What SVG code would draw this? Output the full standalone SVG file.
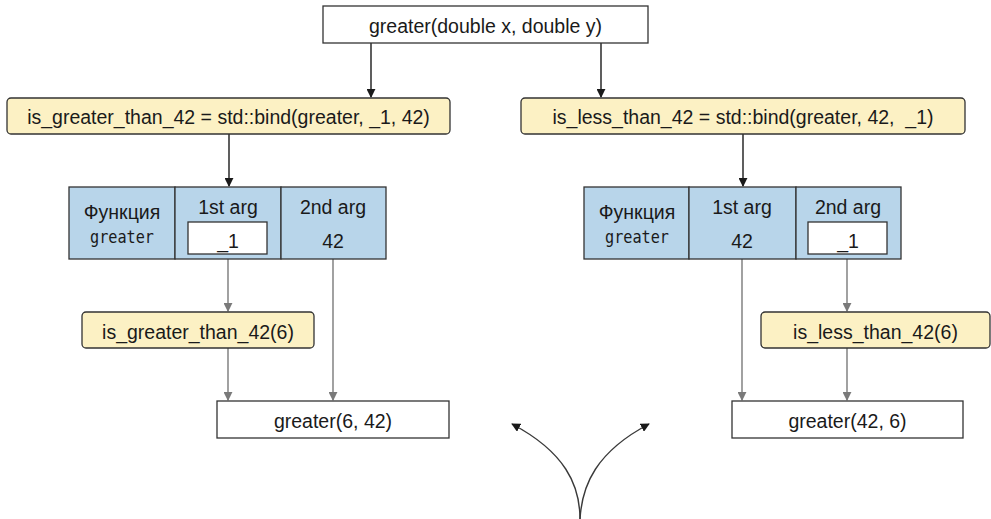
<svg xmlns="http://www.w3.org/2000/svg" width="991" height="519" viewBox="0 0 991 519">
  <defs>
    <style>
      .t { font-family: "Liberation Sans", Arial, sans-serif; font-size: 19.5px; fill: #1a1a1a; text-anchor: middle; }
      .m { font-family: "DejaVu Sans Mono", monospace; font-size: 17px; fill: #1a1a1a; text-anchor: middle; }
      .plain { fill: #ffffff; stroke: #333333; stroke-width: 1.3; }
      .call { fill: #fcf1c4; stroke: #333333; stroke-width: 1.3; }
      .cell { fill: #b8d5ea; stroke: #333333; stroke-width: 1.3; }
      .dark { stroke: #1a1a1a; stroke-width: 1.4; fill: none; marker-end: url(#headDark); }
      .grey { stroke: #7a7a7a; stroke-width: 1.4; fill: none; marker-end: url(#headGrey); }
      .curve { stroke: #3a3a3a; stroke-width: 1.4; fill: none; marker-end: url(#headDark); }
    </style>
    <marker id="headDark" viewBox="0 0 10 10" refX="9" refY="5" markerWidth="9" markerHeight="9" markerUnits="userSpaceOnUse" orient="auto">
      <path d="M0,0 L10,5 L0,10 z" fill="#1a1a1a"/>
    </marker>
    <marker id="headGrey" viewBox="0 0 10 10" refX="9" refY="5" markerWidth="9" markerHeight="9" markerUnits="userSpaceOnUse" orient="auto">
      <path d="M0,0 L10,5 L0,10 z" fill="#7a7a7a"/>
    </marker>
  </defs>

  <!-- connectors -->
  <g id="connectors">
    <line class="dark" x1="371" y1="43" x2="371" y2="97"/>
    <line class="dark" x1="601" y1="43" x2="601" y2="97"/>
    <line class="dark" x1="229" y1="134" x2="229" y2="186"/>
    <line class="dark" x1="743" y1="134" x2="743" y2="186"/>
    <line class="grey" x1="228" y1="259" x2="228" y2="311"/>
    <line class="grey" x1="228" y1="348" x2="228" y2="400"/>
    <line class="grey" x1="333" y1="259" x2="333" y2="400"/>
    <line class="grey" x1="847" y1="259" x2="847" y2="311"/>
    <line class="grey" x1="847" y1="348" x2="847" y2="400"/>
    <line class="grey" x1="742" y1="259" x2="742" y2="400"/>
    <path class="curve" d="M580,519 C580,485 565,452 512,424"/>
    <path class="curve" d="M580,519 C582,485 596,452 649,424"/>
  </g>

  <g id="greater-decl">
    <rect class="plain" x="323" y="6" width="325" height="37"/>
    <text class="t" x="485.5" y="33">greater(double x, double y)</text>
  </g>

  <g id="bind-greater">
    <rect class="call" x="7" y="98" width="443" height="36" rx="4"/>
    <text class="t" x="228.5" y="124">is_greater_than_42 = std::bind(greater, _1, 42)</text>
  </g>

  <g id="bind-less">
    <rect class="call" x="521" y="98" width="444" height="36" rx="4"/>
    <text class="t" x="743" y="124">is_less_than_42 = std::bind(greater, 42, &#160;_1)</text>
  </g>

  <g id="table-greater">
    <rect class="cell" x="69" y="187" width="106" height="72"/>
    <rect class="cell" x="175" y="187" width="106" height="72"/>
    <rect class="cell" x="281" y="187" width="105" height="72"/>
    <text class="t" x="122" y="219">Функция</text>
    <text class="m" x="122" y="243" textLength="64" lengthAdjust="spacingAndGlyphs">greater</text>
    <text class="t" x="228" y="214">1st arg</text>
    <rect class="plain" x="188" y="222" width="79" height="32"/>
    <text class="t" x="228" y="247.5">_1</text>
    <text class="t" x="333" y="214">2nd arg</text>
    <text class="t" x="333" y="247.5">42</text>
  </g>

  <g id="table-less">
    <rect class="cell" x="584" y="187" width="105" height="72"/>
    <rect class="cell" x="689" y="187" width="107" height="72"/>
    <rect class="cell" x="796" y="187" width="105" height="72"/>
    <text class="t" x="637" y="219">Функция</text>
    <text class="m" x="637" y="243" textLength="64" lengthAdjust="spacingAndGlyphs">greater</text>
    <text class="t" x="742" y="214">1st arg</text>
    <text class="t" x="742" y="247.5">42</text>
    <text class="t" x="848" y="214">2nd arg</text>
    <rect class="plain" x="808" y="222" width="79" height="32"/>
    <text class="t" x="848" y="247.5">_1</text>
  </g>

  <g id="call-greater">
    <rect class="call" x="82" y="312" width="232" height="36" rx="4"/>
    <text class="t" x="198" y="338.5">is_greater_than_42(6)</text>
  </g>

  <g id="call-less">
    <rect class="call" x="761" y="312" width="229" height="36" rx="4"/>
    <text class="t" x="875.5" y="338.5">is_less_than_42(6)</text>
  </g>

  <g id="result-greater">
    <rect class="plain" x="217" y="401" width="232" height="37"/>
    <text class="t" x="333" y="428">greater(6, 42)</text>
  </g>

  <g id="result-less">
    <rect class="plain" x="732" y="401" width="231" height="37"/>
    <text class="t" x="847.5" y="428">greater(42, 6)</text>
  </g>
</svg>
